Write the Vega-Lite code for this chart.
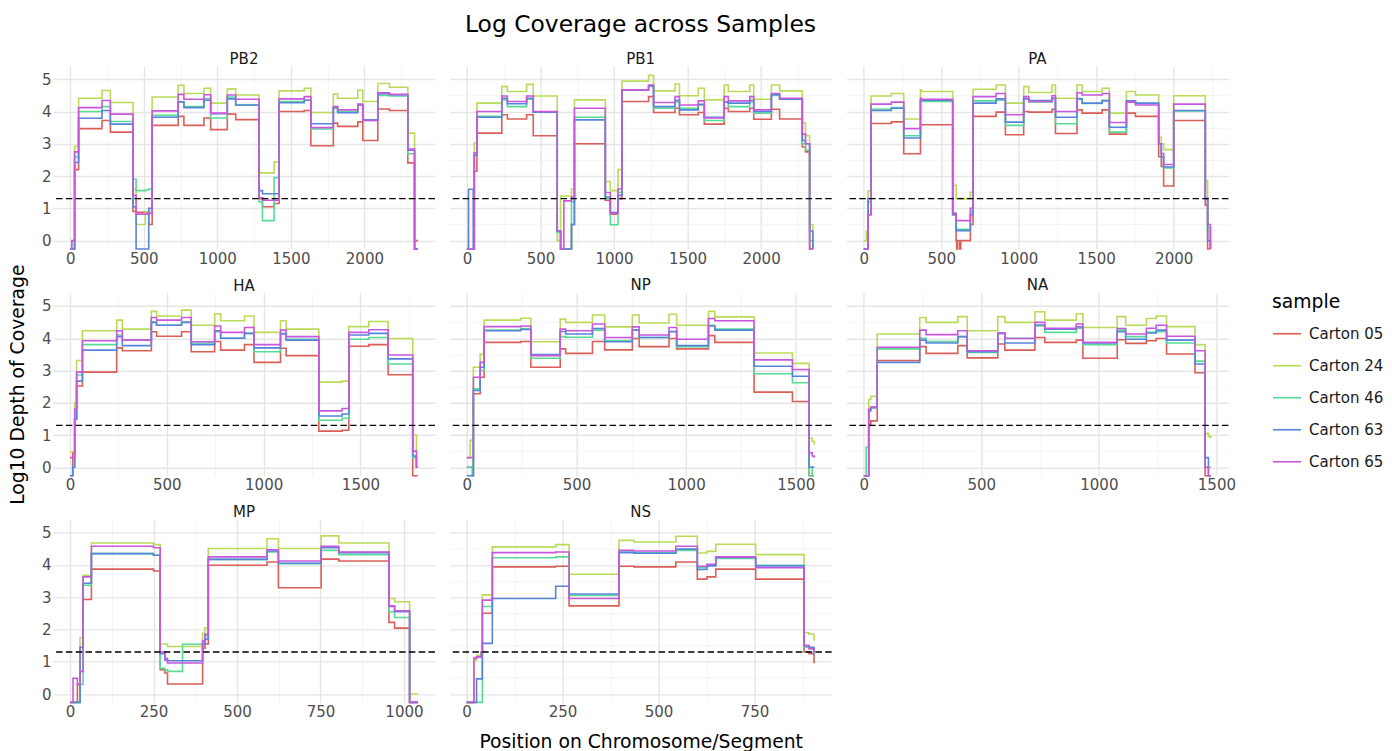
{
"$schema": "https://vega.github.io/schema/vega-lite/v6.json",
"padding": {"left": 8, "top": 12, "right": 5, "bottom": 5},
"title": {"text": "Log Coverage across Samples", "fontSize": 23.4, "fontWeight": "normal", "color": "#000000", "anchor": "start", "frame": "group", "dx": 412, "offset": 14.5},
"datasets": {
"PB2": [
{"x":0,"Carton 05":-0.26,"Carton 24":-0.26,"Carton 46":-0.26,"Carton 63":-0.26,"Carton 65":-0.26},
{"x":11,"Carton 05":-0.26,"Carton 24":0,"Carton 46":-0.26,"Carton 63":-0.26,"Carton 65":0},
{"x":30,"Carton 05":2.2,"Carton 24":2.92,"Carton 46":2.6,"Carton 63":2.42,"Carton 65":2.75},
{"x":57,"Carton 05":3.47,"Carton 24":4.41,"Carton 46":4.0,"Carton 63":3.79,"Carton 65":4.12},
{"x":216,"Carton 05":3.72,"Carton 24":4.65,"Carton 46":4.15,"Carton 63":4.03,"Carton 65":4.34},
{"x":273,"Carton 05":3.36,"Carton 24":4.28,"Carton 46":3.69,"Carton 63":3.61,"Carton 65":3.92},
{"x":427,"Carton 05":0.9,"Carton 24":1.6,"Carton 46":1.9,"Carton 63":1.05,"Carton 65":1.4},
{"x":448,"Carton 05":0.88,"Carton 24":0.5,"Carton 46":1.55,"Carton 63":-0.26,"Carton 65":0.82},
{"x":511,"Carton 05":0.88,"Carton 24":0.9,"Carton 46":1.57,"Carton 63":-0.26,"Carton 65":0.82},
{"x":534,"Carton 05":0.5,"Carton 24":0.9,"Carton 46":1.6,"Carton 63":1.0,"Carton 65":0.85},
{"x":557,"Carton 05":3.57,"Carton 24":4.45,"Carton 46":3.88,"Carton 63":3.82,"Carton 65":4.02},
{"x":734,"Carton 05":3.85,"Carton 24":4.81,"Carton 46":4.3,"Carton 63":4.3,"Carton 65":4.53},
{"x":773,"Carton 05":3.57,"Carton 24":4.56,"Carton 46":4.15,"Carton 63":4.12,"Carton 65":4.38},
{"x":909,"Carton 05":3.8,"Carton 24":4.72,"Carton 46":4.4,"Carton 63":4.35,"Carton 65":4.52},
{"x":955,"Carton 05":3.44,"Carton 24":4.26,"Carton 46":3.8,"Carton 63":3.93,"Carton 65":3.95},
{"x":1068,"Carton 05":3.92,"Carton 24":4.7,"Carton 46":4.45,"Carton 63":4.39,"Carton 65":4.51},
{"x":1125,"Carton 05":3.75,"Carton 24":4.51,"Carton 46":4.2,"Carton 63":4.2,"Carton 65":4.38},
{"x":1284,"Carton 05":1.3,"Carton 24":2.1,"Carton 46":1.2,"Carton 63":1.55,"Carton 65":1.33},
{"x":1307,"Carton 05":1.05,"Carton 24":2.1,"Carton 46":0.62,"Carton 63":1.45,"Carton 65":1.25},
{"x":1386,"Carton 05":1.15,"Carton 24":2.44,"Carton 46":1.95,"Carton 63":1.45,"Carton 65":1.25},
{"x":1420,"Carton 05":4.0,"Carton 24":4.64,"Carton 46":4.31,"Carton 63":4.27,"Carton 65":4.39},
{"x":1591,"Carton 05":4.03,"Carton 24":4.72,"Carton 46":4.35,"Carton 63":4.35,"Carton 65":4.46},
{"x":1636,"Carton 05":2.94,"Carton 24":3.97,"Carton 46":3.46,"Carton 63":3.62,"Carton 65":3.5},
{"x":1789,"Carton 05":3.64,"Carton 24":4.54,"Carton 46":4.1,"Carton 63":4.13,"Carton 65":4.15},
{"x":1818,"Carton 05":3.54,"Carton 24":4.41,"Carton 46":4.0,"Carton 63":3.96,"Carton 65":4.05},
{"x":1955,"Carton 05":3.68,"Carton 24":4.66,"Carton 46":4.2,"Carton 63":4.2,"Carton 65":4.23},
{"x":1989,"Carton 05":3.1,"Carton 24":4.31,"Carton 46":3.72,"Carton 63":3.74,"Carton 65":3.72},
{"x":2091,"Carton 05":4.08,"Carton 24":4.87,"Carton 46":4.5,"Carton 63":4.55,"Carton 65":4.58},
{"x":2170,"Carton 05":4.03,"Carton 24":4.75,"Carton 46":4.48,"Carton 63":4.52,"Carton 65":4.53},
{"x":2295,"Carton 05":2.41,"Carton 24":3.33,"Carton 46":2.69,"Carton 63":2.8,"Carton 65":2.84},
{"x":2341,"Carton 05":0,"Carton 24":-0.26,"Carton 46":-0.26,"Carton 63":-0.26,"Carton 65":-0.26},
{"x":2364,"Carton 05":0,"Carton 24":-0.26,"Carton 46":-0.26,"Carton 63":-0.26,"Carton 65":-0.26}
],
"PB1": [
{"x":0,"Carton 05":-0.26,"Carton 24":0,"Carton 46":-0.26,"Carton 63":-0.26,"Carton 65":-0.26},
{"x":11,"Carton 05":-0.26,"Carton 24":-0.26,"Carton 46":-0.26,"Carton 63":1.59,"Carton 65":-0.26},
{"x":43,"Carton 05":-0.26,"Carton 24":-0.26,"Carton 46":-0.26,"Carton 63":-0.26,"Carton 65":-0.26},
{"x":50,"Carton 05":2.15,"Carton 24":3.03,"Carton 46":2.65,"Carton 63":2.65,"Carton 65":2.72},
{"x":68,"Carton 05":3.33,"Carton 24":4.26,"Carton 46":3.85,"Carton 63":3.82,"Carton 65":4.0},
{"x":237,"Carton 05":3.9,"Carton 24":4.77,"Carton 46":4.36,"Carton 63":4.41,"Carton 65":4.48},
{"x":275,"Carton 05":3.77,"Carton 24":4.62,"Carton 46":4.15,"Carton 63":4.24,"Carton 65":4.31},
{"x":406,"Carton 05":3.9,"Carton 24":4.84,"Carton 46":4.38,"Carton 63":4.41,"Carton 65":4.48},
{"x":451,"Carton 05":3.25,"Carton 24":4.48,"Carton 46":3.98,"Carton 63":3.98,"Carton 65":4.0},
{"x":614,"Carton 05":0.3,"Carton 24":0,"Carton 46":0.25,"Carton 63":0.3,"Carton 65":0.3},
{"x":637,"Carton 05":-0.26,"Carton 24":1.38,"Carton 46":-0.26,"Carton 63":-0.26,"Carton 65":-0.26},
{"x":659,"Carton 05":-0.26,"Carton 24":1.38,"Carton 46":-0.26,"Carton 63":-0.26,"Carton 65":1.23},
{"x":711,"Carton 05":0.5,"Carton 24":1.6,"Carton 46":1.2,"Carton 63":0.5,"Carton 65":1.35},
{"x":731,"Carton 05":3.0,"Carton 24":4.36,"Carton 46":3.82,"Carton 63":3.74,"Carton 65":4.1},
{"x":941,"Carton 05":1.25,"Carton 24":1.83,"Carton 46":1.3,"Carton 63":1.35,"Carton 65":1.49},
{"x":975,"Carton 05":0.82,"Carton 24":1.55,"Carton 46":0.49,"Carton 63":0.87,"Carton 65":0.85},
{"x":1027,"Carton 05":1.3,"Carton 24":2.2,"Carton 46":1.5,"Carton 63":1.4,"Carton 65":1.6},
{"x":1054,"Carton 05":4.31,"Carton 24":4.94,"Carton 46":4.67,"Carton 63":4.67,"Carton 65":4.67},
{"x":1235,"Carton 05":4.46,"Carton 24":5.12,"Carton 46":4.78,"Carton 63":4.8,"Carton 65":4.82},
{"x":1269,"Carton 05":3.97,"Carton 24":4.64,"Carton 46":4.1,"Carton 63":4.15,"Carton 65":4.28},
{"x":1415,"Carton 05":4.1,"Carton 24":4.85,"Carton 46":4.3,"Carton 63":4.35,"Carton 65":4.46},
{"x":1445,"Carton 05":3.9,"Carton 24":4.49,"Carton 46":4.1,"Carton 63":4.05,"Carton 65":4.2},
{"x":1573,"Carton 05":3.97,"Carton 24":4.72,"Carton 46":4.2,"Carton 63":4.22,"Carton 65":4.33},
{"x":1614,"Carton 05":3.61,"Carton 24":4.36,"Carton 46":3.72,"Carton 63":3.82,"Carton 65":3.8},
{"x":1749,"Carton 05":4.1,"Carton 24":4.82,"Carton 46":4.3,"Carton 63":4.3,"Carton 65":4.46},
{"x":1777,"Carton 05":4.0,"Carton 24":4.62,"Carton 46":4.15,"Carton 63":4.26,"Carton 65":4.33},
{"x":1923,"Carton 05":4.1,"Carton 24":4.82,"Carton 46":4.3,"Carton 63":4.35,"Carton 65":4.46},
{"x":1950,"Carton 05":3.76,"Carton 24":4.38,"Carton 46":3.95,"Carton 63":4.0,"Carton 65":4.05},
{"x":2070,"Carton 05":4.07,"Carton 24":4.82,"Carton 46":4.5,"Carton 63":4.52,"Carton 65":4.56},
{"x":2126,"Carton 05":3.77,"Carton 24":4.64,"Carton 46":4.38,"Carton 63":4.38,"Carton 65":4.41},
{"x":2280,"Carton 05":2.9,"Carton 24":3.65,"Carton 46":3.0,"Carton 63":3.1,"Carton 65":3.3},
{"x":2302,"Carton 05":2.75,"Carton 24":3.25,"Carton 46":2.8,"Carton 63":3.0,"Carton 65":3.0},
{"x":2330,"Carton 05":-0.26,"Carton 24":0.5,"Carton 46":0,"Carton 63":0.3,"Carton 65":-0.26},
{"x":2352,"Carton 05":-0.26,"Carton 24":-0.26,"Carton 46":-0.26,"Carton 63":-0.26,"Carton 65":-0.26}
],
"PA": [
{"x":0,"Carton 05":-0.26,"Carton 24":0,"Carton 46":-0.26,"Carton 63":-0.26,"Carton 65":-0.26},
{"x":17,"Carton 05":-0.26,"Carton 24":0.3,"Carton 46":-0.26,"Carton 63":-0.26,"Carton 65":-0.26},
{"x":28,"Carton 05":0.8,"Carton 24":1.54,"Carton 46":1.2,"Carton 63":1.3,"Carton 65":0.8},
{"x":47,"Carton 05":3.63,"Carton 24":4.48,"Carton 46":4.07,"Carton 63":4.03,"Carton 65":4.23},
{"x":178,"Carton 05":3.68,"Carton 24":4.56,"Carton 46":4.12,"Carton 63":4.1,"Carton 65":4.29},
{"x":258,"Carton 05":2.69,"Carton 24":3.77,"Carton 46":3.25,"Carton 63":3.18,"Carton 65":3.47},
{"x":366,"Carton 05":3.59,"Carton 24":4.67,"Carton 46":4.31,"Carton 63":4.35,"Carton 65":4.41},
{"x":372,"Carton 05":3.59,"Carton 24":4.62,"Carton 46":4.31,"Carton 63":4.35,"Carton 65":4.38},
{"x":574,"Carton 05":0.8,"Carton 24":1.71,"Carton 46":0.85,"Carton 63":0.8,"Carton 65":0.85},
{"x":596,"Carton 05":0,"Carton 24":1.3,"Carton 46":0.35,"Carton 63":0.31,"Carton 65":0.62},
{"x":600,"Carton 05":-0.26,"Carton 24":1.3,"Carton 46":0.35,"Carton 63":0.31,"Carton 65":0.62},
{"x":606,"Carton 05":0,"Carton 24":1.3,"Carton 46":0.35,"Carton 63":0.31,"Carton 65":0.62},
{"x":620,"Carton 05":-0.26,"Carton 24":1.3,"Carton 46":0.35,"Carton 63":0.31,"Carton 65":0.62},
{"x":626,"Carton 05":0,"Carton 24":1.3,"Carton 46":0.35,"Carton 63":0.31,"Carton 65":0.62},
{"x":688,"Carton 05":0.5,"Carton 24":1.5,"Carton 46":0.9,"Carton 63":0.8,"Carton 65":1.0},
{"x":705,"Carton 05":3.85,"Carton 24":4.69,"Carton 46":4.33,"Carton 63":4.26,"Carton 65":4.46},
{"x":854,"Carton 05":3.98,"Carton 24":4.82,"Carton 46":4.35,"Carton 63":4.39,"Carton 65":4.56},
{"x":914,"Carton 05":3.28,"Carton 24":4.26,"Carton 46":3.57,"Carton 63":3.67,"Carton 65":3.9},
{"x":1032,"Carton 05":4.0,"Carton 24":4.77,"Carton 46":4.4,"Carton 63":4.39,"Carton 65":4.46},
{"x":1065,"Carton 05":3.98,"Carton 24":4.59,"Carton 46":4.3,"Carton 63":4.34,"Carton 65":4.31},
{"x":1215,"Carton 05":4.07,"Carton 24":4.82,"Carton 46":4.4,"Carton 63":4.41,"Carton 65":4.49},
{"x":1237,"Carton 05":3.32,"Carton 24":4.41,"Carton 46":3.62,"Carton 63":3.82,"Carton 65":4.0},
{"x":1376,"Carton 05":4.05,"Carton 24":4.82,"Carton 46":4.4,"Carton 63":4.39,"Carton 65":4.58},
{"x":1409,"Carton 05":3.95,"Carton 24":4.62,"Carton 46":4.25,"Carton 63":4.26,"Carton 65":4.51},
{"x":1538,"Carton 05":4.05,"Carton 24":4.72,"Carton 46":4.35,"Carton 63":4.33,"Carton 65":4.56},
{"x":1585,"Carton 05":3.3,"Carton 24":3.95,"Carton 46":3.36,"Carton 63":3.51,"Carton 65":3.66},
{"x":1695,"Carton 05":3.95,"Carton 24":4.62,"Carton 46":4.3,"Carton 63":4.33,"Carton 65":4.29},
{"x":1753,"Carton 05":3.85,"Carton 24":4.51,"Carton 46":4.25,"Carton 63":4.26,"Carton 65":4.2},
{"x":1903,"Carton 05":2.6,"Carton 24":3.2,"Carton 46":3.0,"Carton 63":3.0,"Carton 65":3.0},
{"x":1920,"Carton 05":2.3,"Carton 24":3.0,"Carton 46":2.6,"Carton 63":2.6,"Carton 65":2.7},
{"x":1935,"Carton 05":1.69,"Carton 24":2.82,"Carton 46":2.25,"Carton 63":2.28,"Carton 65":2.36},
{"x":2000,"Carton 05":3.72,"Carton 24":4.49,"Carton 46":4.02,"Carton 63":4.03,"Carton 65":4.23},
{"x":2204,"Carton 05":1.1,"Carton 24":1.85,"Carton 46":1.3,"Carton 63":1.3,"Carton 65":1.3},
{"x":2219,"Carton 05":-0.26,"Carton 24":0.3,"Carton 46":0.4,"Carton 63":0,"Carton 65":0.5},
{"x":2237,"Carton 05":-0.26,"Carton 24":-0.26,"Carton 46":-0.26,"Carton 63":-0.26,"Carton 65":-0.26}
],
"HA": [
{"x":0,"Carton 05":-0.26,"Carton 24":0.48,"Carton 46":-0.26,"Carton 63":-0.26,"Carton 65":0.3},
{"x":14,"Carton 05":0.45,"Carton 24":0.48,"Carton 46":0,"Carton 63":0,"Carton 65":0.3},
{"x":24,"Carton 05":1.5,"Carton 24":2.0,"Carton 46":1.5,"Carton 63":1.5,"Carton 65":1.8},
{"x":34,"Carton 05":2.52,"Carton 24":3.31,"Carton 46":2.86,"Carton 63":2.67,"Carton 65":2.95},
{"x":64,"Carton 05":2.95,"Carton 24":4.23,"Carton 46":3.8,"Carton 63":3.63,"Carton 65":3.92},
{"x":241,"Carton 05":3.7,"Carton 24":4.56,"Carton 46":4.1,"Carton 63":4.05,"Carton 65":4.23},
{"x":270,"Carton 05":3.61,"Carton 24":4.28,"Carton 46":3.95,"Carton 63":3.77,"Carton 65":3.94},
{"x":420,"Carton 05":4.2,"Carton 24":4.83,"Carton 46":4.5,"Carton 63":4.49,"Carton 65":4.64},
{"x":447,"Carton 05":4.06,"Carton 24":4.69,"Carton 46":4.4,"Carton 63":4.4,"Carton 65":4.56},
{"x":576,"Carton 05":4.2,"Carton 24":4.87,"Carton 46":4.5,"Carton 63":4.49,"Carton 65":4.64},
{"x":626,"Carton 05":3.58,"Carton 24":4.4,"Carton 46":3.85,"Carton 63":3.8,"Carton 65":3.89},
{"x":747,"Carton 05":3.9,"Carton 24":4.76,"Carton 46":4.2,"Carton 63":4.23,"Carton 65":4.38},
{"x":778,"Carton 05":3.63,"Carton 24":4.54,"Carton 46":4.0,"Carton 63":4.0,"Carton 65":4.18},
{"x":901,"Carton 05":3.8,"Carton 24":4.69,"Carton 46":4.15,"Carton 63":4.15,"Carton 65":4.33},
{"x":950,"Carton 05":3.25,"Carton 24":4.18,"Carton 46":3.58,"Carton 63":3.7,"Carton 65":3.8},
{"x":1087,"Carton 05":3.69,"Carton 24":4.54,"Carton 46":4.15,"Carton 63":4.13,"Carton 65":4.25},
{"x":1116,"Carton 05":3.46,"Carton 24":4.28,"Carton 46":3.97,"Carton 63":3.94,"Carton 65":4.05},
{"x":1285,"Carton 05":1.12,"Carton 24":2.64,"Carton 46":1.46,"Carton 63":1.59,"Carton 65":1.75},
{"x":1405,"Carton 05":1.15,"Carton 24":2.67,"Carton 46":1.52,"Carton 63":1.65,"Carton 65":1.82},
{"x":1440,"Carton 05":3.75,"Carton 24":4.36,"Carton 46":3.97,"Carton 63":4.1,"Carton 65":4.18},
{"x":1543,"Carton 05":3.8,"Carton 24":4.52,"Carton 46":4.02,"Carton 63":4.15,"Carton 65":4.26},
{"x":1643,"Carton 05":2.87,"Carton 24":3.99,"Carton 46":3.2,"Carton 63":3.36,"Carton 65":3.48},
{"x":1770,"Carton 05":-0.26,"Carton 24":1.0,"Carton 46":0.3,"Carton 63":0.35,"Carton 65":0.5},
{"x":1789,"Carton 05":-0.26,"Carton 24":0.5,"Carton 46":0,"Carton 63":0,"Carton 65":0},
{"x":1796,"Carton 05":-0.26,"Carton 24":0.5,"Carton 46":0,"Carton 63":0,"Carton 65":0}
],
"NP": [
{"x":0,"Carton 05":0,"Carton 24":0.3,"Carton 46":0,"Carton 63":-0.26,"Carton 65":0.3},
{"x":15,"Carton 05":0,"Carton 24":0.84,"Carton 46":0,"Carton 63":-0.26,"Carton 65":0.3},
{"x":26,"Carton 05":-0.26,"Carton 24":0.9,"Carton 46":-0.26,"Carton 63":-0.26,"Carton 65":0.3},
{"x":30,"Carton 05":2.28,"Carton 24":3.1,"Carton 46":2.43,"Carton 63":2.38,"Carton 65":2.79},
{"x":61,"Carton 05":2.79,"Carton 24":3.51,"Carton 46":3.0,"Carton 63":3.1,"Carton 65":3.25},
{"x":79,"Carton 05":3.87,"Carton 24":4.56,"Carton 46":4.25,"Carton 63":4.23,"Carton 65":4.36},
{"x":246,"Carton 05":3.9,"Carton 24":4.62,"Carton 46":4.3,"Carton 63":4.27,"Carton 65":4.38},
{"x":292,"Carton 05":3.1,"Carton 24":3.89,"Carton 46":3.38,"Carton 63":3.49,"Carton 65":3.46},
{"x":426,"Carton 05":3.67,"Carton 24":4.59,"Carton 46":4.05,"Carton 63":4.21,"Carton 65":4.28},
{"x":451,"Carton 05":3.53,"Carton 24":4.49,"Carton 46":4.03,"Carton 63":4.13,"Carton 65":4.23},
{"x":573,"Carton 05":3.9,"Carton 24":4.72,"Carton 46":4.25,"Carton 63":4.3,"Carton 65":4.44},
{"x":629,"Carton 05":3.64,"Carton 24":4.35,"Carton 46":3.92,"Carton 63":3.89,"Carton 65":4.02},
{"x":755,"Carton 05":3.99,"Carton 24":4.72,"Carton 46":4.25,"Carton 63":4.25,"Carton 65":4.35},
{"x":786,"Carton 05":3.74,"Carton 24":4.47,"Carton 46":4.02,"Carton 63":4.02,"Carton 65":4.1},
{"x":922,"Carton 05":3.99,"Carton 24":4.74,"Carton 46":4.2,"Carton 63":4.21,"Carton 65":4.33},
{"x":957,"Carton 05":3.67,"Carton 24":4.4,"Carton 46":3.74,"Carton 63":3.77,"Carton 65":3.97},
{"x":1102,"Carton 05":4.08,"Carton 24":4.83,"Carton 46":4.4,"Carton 63":4.38,"Carton 65":4.61},
{"x":1131,"Carton 05":3.87,"Carton 24":4.66,"Carton 46":4.28,"Carton 63":4.25,"Carton 65":4.54},
{"x":1310,"Carton 05":2.33,"Carton 24":3.54,"Carton 46":2.9,"Carton 63":3.13,"Carton 65":3.33},
{"x":1485,"Carton 05":2.04,"Carton 24":3.22,"Carton 46":2.62,"Carton 63":2.82,"Carton 65":3.03},
{"x":1561,"Carton 05":-0.26,"Carton 24":0.9,"Carton 46":-0.26,"Carton 63":0,"Carton 65":0.45},
{"x":1575,"Carton 05":-0.26,"Carton 24":0.8,"Carton 46":0,"Carton 63":0,"Carton 65":0.35},
{"x":1584,"Carton 05":-0.26,"Carton 24":0.7,"Carton 46":0,"Carton 63":0,"Carton 65":0.3}
],
"NA": [
{"x":0,"Carton 05":-0.26,"Carton 24":-0.26,"Carton 46":-0.26,"Carton 63":-0.26,"Carton 65":-0.26},
{"x":10,"Carton 05":-0.26,"Carton 24":-0.26,"Carton 46":0.62,"Carton 63":-0.26,"Carton 65":-0.26},
{"x":21,"Carton 05":1.3,"Carton 24":2.1,"Carton 46":1.8,"Carton 63":1.75,"Carton 65":1.8},
{"x":30,"Carton 05":1.44,"Carton 24":2.2,"Carton 46":1.85,"Carton 63":1.85,"Carton 65":1.87},
{"x":57,"Carton 05":3.31,"Carton 24":4.13,"Carton 46":3.67,"Carton 63":3.25,"Carton 65":3.72},
{"x":238,"Carton 05":3.74,"Carton 24":4.64,"Carton 46":4.0,"Carton 63":3.94,"Carton 65":4.25},
{"x":265,"Carton 05":3.53,"Carton 24":4.49,"Carton 46":3.9,"Carton 63":3.85,"Carton 65":4.11},
{"x":400,"Carton 05":3.77,"Carton 24":4.67,"Carton 46":4.05,"Carton 63":4.05,"Carton 65":4.23},
{"x":440,"Carton 05":3.39,"Carton 24":4.23,"Carton 46":3.56,"Carton 63":3.58,"Carton 65":3.61},
{"x":570,"Carton 05":3.82,"Carton 24":4.67,"Carton 46":4.15,"Carton 63":4.15,"Carton 65":4.16},
{"x":600,"Carton 05":3.63,"Carton 24":4.49,"Carton 46":4.0,"Carton 63":3.85,"Carton 65":3.99},
{"x":728,"Carton 05":4.02,"Carton 24":4.82,"Carton 46":4.38,"Carton 63":4.41,"Carton 65":4.49},
{"x":770,"Carton 05":3.87,"Carton 24":4.56,"Carton 46":4.18,"Carton 63":4.28,"Carton 65":4.31},
{"x":904,"Carton 05":3.94,"Carton 24":4.76,"Carton 46":4.3,"Carton 63":4.35,"Carton 65":4.44},
{"x":932,"Carton 05":3.38,"Carton 24":4.33,"Carton 46":3.8,"Carton 63":3.85,"Carton 65":3.87},
{"x":1078,"Carton 05":3.95,"Carton 24":4.67,"Carton 46":4.25,"Carton 63":4.2,"Carton 65":4.3},
{"x":1114,"Carton 05":3.84,"Carton 24":4.4,"Carton 46":4.05,"Carton 63":3.97,"Carton 65":4.13},
{"x":1202,"Carton 05":3.92,"Carton 24":4.61,"Carton 46":4.18,"Carton 63":4.16,"Carton 65":4.31},
{"x":1244,"Carton 05":3.99,"Carton 24":4.69,"Carton 46":4.2,"Carton 63":4.25,"Carton 65":4.4},
{"x":1288,"Carton 05":3.51,"Carton 24":4.36,"Carton 46":3.85,"Carton 63":3.94,"Carton 65":4.06},
{"x":1409,"Carton 05":2.93,"Carton 24":3.8,"Carton 46":3.29,"Carton 63":3.2,"Carton 65":3.61},
{"x":1452,"Carton 05":-0.26,"Carton 24":1.05,"Carton 46":0,"Carton 63":0.3,"Carton 65":0},
{"x":1466,"Carton 05":-0.26,"Carton 24":0.95,"Carton 46":0,"Carton 63":-0.26,"Carton 65":-0.26},
{"x":1476,"Carton 05":-0.26,"Carton 24":0.9,"Carton 46":0,"Carton 63":-0.26,"Carton 65":-0.26}
],
"MP": [
{"x":0,"Carton 05":-0.26,"Carton 24":-0.26,"Carton 46":-0.26,"Carton 63":-0.26,"Carton 65":-0.26},
{"x":9,"Carton 05":-0.26,"Carton 24":-0.26,"Carton 46":-0.26,"Carton 63":-0.26,"Carton 65":0.49},
{"x":22,"Carton 05":0.3,"Carton 24":-0.26,"Carton 46":-0.26,"Carton 63":-0.26,"Carton 65":0.3},
{"x":30,"Carton 05":1.3,"Carton 24":1.75,"Carton 46":0.3,"Carton 63":1.45,"Carton 65":0.7},
{"x":39,"Carton 05":2.93,"Carton 24":3.68,"Carton 46":3.37,"Carton 63":3.43,"Carton 65":3.63},
{"x":64,"Carton 05":3.87,"Carton 24":4.68,"Carton 46":4.35,"Carton 63":4.35,"Carton 65":4.58},
{"x":250,"Carton 05":3.81,"Carton 24":4.63,"Carton 46":4.3,"Carton 63":4.3,"Carton 65":4.53},
{"x":270,"Carton 05":0.75,"Carton 24":1.55,"Carton 46":0.8,"Carton 63":1.25,"Carton 65":1.3},
{"x":284,"Carton 05":0.65,"Carton 24":1.55,"Carton 46":0.75,"Carton 63":1.1,"Carton 65":1.05},
{"x":292,"Carton 05":0.31,"Carton 24":1.47,"Carton 46":0.7,"Carton 63":1.03,"Carton 65":0.96},
{"x":337,"Carton 05":0.31,"Carton 24":1.47,"Carton 46":1.54,"Carton 63":1.03,"Carton 65":0.96},
{"x":397,"Carton 05":1.42,"Carton 24":1.88,"Carton 46":1.6,"Carton 63":1.55,"Carton 65":1.65},
{"x":404,"Carton 05":1.55,"Carton 24":2.05,"Carton 46":1.8,"Carton 63":1.7,"Carton 65":1.85},
{"x":414,"Carton 05":3.99,"Carton 24":4.51,"Carton 46":4.17,"Carton 63":4.17,"Carton 65":4.25},
{"x":590,"Carton 05":4.09,"Carton 24":4.81,"Carton 46":4.4,"Carton 63":4.43,"Carton 65":4.47},
{"x":624,"Carton 05":3.29,"Carton 24":4.51,"Carton 46":4.04,"Carton 63":4.05,"Carton 65":4.12},
{"x":752,"Carton 05":4.18,"Carton 24":4.9,"Carton 46":4.45,"Carton 63":4.53,"Carton 65":4.58},
{"x":805,"Carton 05":4.12,"Carton 24":4.68,"Carton 46":4.32,"Carton 63":4.38,"Carton 65":4.4},
{"x":955,"Carton 05":2.22,"Carton 24":2.96,"Carton 46":2.55,"Carton 63":2.71,"Carton 65":2.73},
{"x":972,"Carton 05":2.04,"Carton 24":2.86,"Carton 46":2.37,"Carton 63":2.55,"Carton 65":2.58},
{"x":1017,"Carton 05":-0.26,"Carton 24":0,"Carton 46":-0.26,"Carton 63":-0.26,"Carton 65":-0.26},
{"x":1042,"Carton 05":-0.26,"Carton 24":0,"Carton 46":-0.26,"Carton 63":-0.26,"Carton 65":-0.26}
],
"NS": [
{"x":0,"Carton 05":-0.26,"Carton 24":-0.26,"Carton 46":-0.26,"Carton 63":-0.26,"Carton 65":-0.26},
{"x":19,"Carton 05":1.11,"Carton 24":1.05,"Carton 46":-0.26,"Carton 63":-0.26,"Carton 65":1.11},
{"x":26,"Carton 05":1.15,"Carton 24":1.2,"Carton 46":-0.26,"Carton 63":0.47,"Carton 65":1.15},
{"x":38,"Carton 05":1.3,"Carton 24":1.3,"Carton 46":-0.26,"Carton 63":0.47,"Carton 65":1.3},
{"x":41,"Carton 05":2.5,"Carton 24":3.07,"Carton 46":2.71,"Carton 63":1.57,"Carton 65":2.91},
{"x":67,"Carton 05":3.94,"Carton 24":4.56,"Carton 46":4.22,"Carton 63":2.96,"Carton 65":4.38},
{"x":232,"Carton 05":3.96,"Carton 24":4.63,"Carton 46":4.25,"Carton 63":3.34,"Carton 65":4.4},
{"x":267,"Carton 05":2.73,"Carton 24":3.71,"Carton 46":3.05,"Carton 63":3.1,"Carton 65":2.96},
{"x":397,"Carton 05":3.96,"Carton 24":4.76,"Carton 46":4.4,"Carton 63":4.38,"Carton 65":4.45},
{"x":436,"Carton 05":3.94,"Carton 24":4.71,"Carton 46":4.38,"Carton 63":4.36,"Carton 65":4.43},
{"x":545,"Carton 05":4.09,"Carton 24":4.89,"Carton 46":4.45,"Carton 63":4.49,"Carton 65":4.58},
{"x":601,"Carton 05":3.56,"Carton 24":4.37,"Carton 46":3.91,"Carton 63":3.86,"Carton 65":3.96},
{"x":626,"Carton 05":3.63,"Carton 24":4.42,"Carton 46":4.0,"Carton 63":3.97,"Carton 65":4.02},
{"x":649,"Carton 05":3.87,"Carton 24":4.64,"Carton 46":4.2,"Carton 63":4.23,"Carton 65":4.25},
{"x":753,"Carton 05":3.56,"Carton 24":4.32,"Carton 46":3.99,"Carton 63":3.97,"Carton 65":3.91},
{"x":879,"Carton 05":1.3,"Carton 24":1.9,"Carton 46":1.45,"Carton 63":1.5,"Carton 65":1.5},
{"x":892,"Carton 05":1.25,"Carton 24":1.85,"Carton 46":1.4,"Carton 63":1.45,"Carton 65":1.4},
{"x":905,"Carton 05":0.95,"Carton 24":1.65,"Carton 46":1.3,"Carton 63":1.2,"Carton 65":1.3}
]
},
"concat": [
{"width": 382, "height": 183, "title": {"text": "PB2"},
 "layer": [
  {"data": {"name": "PB2"}, "transform": [{"fold": ["Carton 05","Carton 24","Carton 46","Carton 63","Carton 65"], "as": ["sample","depth"]}],
   "mark": {"type": "line", "interpolate": "step-after", "strokeWidth": 1.6},
   "encoding": {
    "x": {"field": "x", "type": "quantitative", "scale": {"domain": [-117, 2480], "nice": false, "zero": false},
          "axis": {"title": null, "values": [0,250,500,750,1000,1250,1500,1750,2000,2250], "format": "d", "labelOverlap": false, "labelExpr": "datum.value % 500 === 0 ? datum.label : ''",
                   "gridColor": {"condition": {"test": "datum.value % 500 === 0", "value": "#e5e5e5"}, "value": "#f2f2f2"},
                   "gridWidth": {"condition": {"test": "datum.value % 500 === 0", "value": 1.4}, "value": 0.8}}},
    "y": {"field": "depth", "type": "quantitative", "scale": {"domain": [-0.26, 5.41], "nice": false, "zero": false},
          "axis": {"title": null, "values": [0,0.5,1,1.5,2,2.5,3,3.5,4,4.5,5], "format": "d", "labelOverlap": false, "labelExpr": "datum.value % 1 === 0 ? datum.label : ''",
                   "gridColor": {"condition": {"test": "datum.value % 1 === 0", "value": "#e5e5e5"}, "value": "#f2f2f2"},
                   "gridWidth": {"condition": {"test": "datum.value % 1 === 0", "value": 1.4}, "value": 0.8}}},
    "color": {"field": "sample", "type": "nominal", "scale": {"domain": ["Carton 05","Carton 24","Carton 46","Carton 63","Carton 65"], "range": ["#db5f57","#b9db57","#57db94","#5784db","#c957db"]},
              "legend": {"title": "sample", "orient": "none", "legendX": 1219, "legendY": 227}}
   }},
  {"data": {"values": [{"thr": 1.3}]}, "mark": {"type": "rule", "color": "#000000", "strokeDash": [6.5, 3.3], "strokeWidth": 1.4},
   "encoding": {"y": {"field": "thr", "type": "quantitative",
          "axis": {"title": null, "values": [0,0.5,1,1.5,2,2.5,3,3.5,4,4.5,5], "format": "d", "labelOverlap": false, "labelExpr": "datum.value % 1 === 0 ? datum.label : ''",
                   "gridColor": {"condition": {"test": "datum.value % 1 === 0", "value": "#e5e5e5"}, "value": "#f2f2f2"},
                   "gridWidth": {"condition": {"test": "datum.value % 1 === 0", "value": 1.4}, "value": 0.8}}}}}
 ]},
{"width": 382, "height": 183, "title": {"text": "PB1"},
 "layer": [
  {"data": {"name": "PB1"}, "transform": [{"fold": ["Carton 05","Carton 24","Carton 46","Carton 63","Carton 65"], "as": ["sample","depth"]}],
   "mark": {"type": "line", "interpolate": "step-after", "strokeWidth": 1.6},
   "encoding": {
    "x": {"field": "x", "type": "quantitative", "scale": {"domain": [-117, 2480], "nice": false, "zero": false},
          "axis": {"title": null, "values": [0,250,500,750,1000,1250,1500,1750,2000,2250], "format": "d", "labelOverlap": false, "labelExpr": "datum.value % 500 === 0 ? datum.label : ''",
                   "gridColor": {"condition": {"test": "datum.value % 500 === 0", "value": "#e5e5e5"}, "value": "#f2f2f2"},
                   "gridWidth": {"condition": {"test": "datum.value % 500 === 0", "value": 1.4}, "value": 0.8}}},
    "y": {"field": "depth", "type": "quantitative", "scale": {"domain": [-0.26, 5.41], "nice": false, "zero": false},
          "axis": {"title": null, "labels": false, "values": [0,0.5,1,1.5,2,2.5,3,3.5,4,4.5,5],
                   "gridColor": {"condition": {"test": "datum.value % 1 === 0", "value": "#e5e5e5"}, "value": "#f2f2f2"},
                   "gridWidth": {"condition": {"test": "datum.value % 1 === 0", "value": 1.4}, "value": 0.8}}},
    "color": {"field": "sample", "type": "nominal", "scale": {"domain": ["Carton 05","Carton 24","Carton 46","Carton 63","Carton 65"], "range": ["#db5f57","#b9db57","#57db94","#5784db","#c957db"]}}
   }},
  {"data": {"values": [{"thr": 1.3}]}, "mark": {"type": "rule", "color": "#000000", "strokeDash": [6.5, 3.3], "strokeWidth": 1.4},
   "encoding": {"y": {"field": "thr", "type": "quantitative",
          "axis": {"title": null, "labels": false, "values": [0,0.5,1,1.5,2,2.5,3,3.5,4,4.5,5],
                   "gridColor": {"condition": {"test": "datum.value % 1 === 0", "value": "#e5e5e5"}, "value": "#f2f2f2"},
                   "gridWidth": {"condition": {"test": "datum.value % 1 === 0", "value": 1.4}, "value": 0.8}}}}}
 ]},
{"width": 382, "height": 183, "title": {"text": "PA"},
 "layer": [
  {"data": {"name": "PA"}, "transform": [{"fold": ["Carton 05","Carton 24","Carton 46","Carton 63","Carton 65"], "as": ["sample","depth"]}],
   "mark": {"type": "line", "interpolate": "step-after", "strokeWidth": 1.6},
   "encoding": {
    "x": {"field": "x", "type": "quantitative", "scale": {"domain": [-112, 2353], "nice": false, "zero": false},
          "axis": {"title": null, "values": [0,250,500,750,1000,1250,1500,1750,2000,2250], "format": "d", "labelOverlap": false, "labelExpr": "datum.value % 500 === 0 ? datum.label : ''",
                   "gridColor": {"condition": {"test": "datum.value % 500 === 0", "value": "#e5e5e5"}, "value": "#f2f2f2"},
                   "gridWidth": {"condition": {"test": "datum.value % 500 === 0", "value": 1.4}, "value": 0.8}}},
    "y": {"field": "depth", "type": "quantitative", "scale": {"domain": [-0.26, 5.41], "nice": false, "zero": false},
          "axis": {"title": null, "labels": false, "values": [0,0.5,1,1.5,2,2.5,3,3.5,4,4.5,5],
                   "gridColor": {"condition": {"test": "datum.value % 1 === 0", "value": "#e5e5e5"}, "value": "#f2f2f2"},
                   "gridWidth": {"condition": {"test": "datum.value % 1 === 0", "value": 1.4}, "value": 0.8}}},
    "color": {"field": "sample", "type": "nominal", "scale": {"domain": ["Carton 05","Carton 24","Carton 46","Carton 63","Carton 65"], "range": ["#db5f57","#b9db57","#57db94","#5784db","#c957db"]}}
   }},
  {"data": {"values": [{"thr": 1.3}]}, "mark": {"type": "rule", "color": "#000000", "strokeDash": [6.5, 3.3], "strokeWidth": 1.4},
   "encoding": {"y": {"field": "thr", "type": "quantitative",
          "axis": {"title": null, "labels": false, "values": [0,0.5,1,1.5,2,2.5,3,3.5,4,4.5,5],
                   "gridColor": {"condition": {"test": "datum.value % 1 === 0", "value": "#e5e5e5"}, "value": "#f2f2f2"},
                   "gridWidth": {"condition": {"test": "datum.value % 1 === 0", "value": 1.4}, "value": 0.8}}}}}
 ]},
{"width": 382, "height": 183, "title": {"text": "HA", "offset": -29.5},
 "layer": [
  {"data": {"name": "HA"}, "transform": [{"fold": ["Carton 05","Carton 24","Carton 46","Carton 63","Carton 65"], "as": ["sample","depth"]}],
   "mark": {"type": "line", "interpolate": "step-after", "strokeWidth": 1.6},
   "encoding": {
    "x": {"field": "x", "type": "quantitative", "scale": {"domain": [-88, 1885], "nice": false, "zero": false},
          "axis": {"title": null, "values": [0,250,500,750,1000,1250,1500,1750], "format": "d", "labelOverlap": false, "labelExpr": "datum.value % 500 === 0 ? datum.label : ''",
                   "gridColor": {"condition": {"test": "datum.value % 500 === 0", "value": "#e5e5e5"}, "value": "#f2f2f2"},
                   "gridWidth": {"condition": {"test": "datum.value % 500 === 0", "value": 1.4}, "value": 0.8}}},
    "y": {"field": "depth", "type": "quantitative", "scale": {"domain": [-0.26, 5.41], "nice": false, "zero": false},
          "axis": {"title": "Log10 Depth of Coverage", "titlePadding": 14, "values": [0,0.5,1,1.5,2,2.5,3,3.5,4,4.5,5], "format": "d", "labelOverlap": false, "labelExpr": "datum.value % 1 === 0 ? datum.label : ''",
                   "gridColor": {"condition": {"test": "datum.value % 1 === 0", "value": "#e5e5e5"}, "value": "#f2f2f2"},
                   "gridWidth": {"condition": {"test": "datum.value % 1 === 0", "value": 1.4}, "value": 0.8}}},
    "color": {"field": "sample", "type": "nominal", "scale": {"domain": ["Carton 05","Carton 24","Carton 46","Carton 63","Carton 65"], "range": ["#db5f57","#b9db57","#57db94","#5784db","#c957db"]}}
   }},
  {"data": {"values": [{"thr": 1.3}]}, "mark": {"type": "rule", "color": "#000000", "strokeDash": [6.5, 3.3], "strokeWidth": 1.4},
   "encoding": {"y": {"field": "thr", "type": "quantitative",
          "axis": {"title": "Log10 Depth of Coverage", "titlePadding": 14, "values": [0,0.5,1,1.5,2,2.5,3,3.5,4,4.5,5], "format": "d", "labelOverlap": false, "labelExpr": "datum.value % 1 === 0 ? datum.label : ''",
                   "gridColor": {"condition": {"test": "datum.value % 1 === 0", "value": "#e5e5e5"}, "value": "#f2f2f2"},
                   "gridWidth": {"condition": {"test": "datum.value % 1 === 0", "value": 1.4}, "value": 0.8}}}}}
 ]},
{"width": 382, "height": 183, "title": {"text": "NP"},
 "layer": [
  {"data": {"name": "NP"}, "transform": [{"fold": ["Carton 05","Carton 24","Carton 46","Carton 63","Carton 65"], "as": ["sample","depth"]}],
   "mark": {"type": "line", "interpolate": "step-after", "strokeWidth": 1.6},
   "encoding": {
    "x": {"field": "x", "type": "quantitative", "scale": {"domain": [-78, 1664], "nice": false, "zero": false},
          "axis": {"title": null, "values": [0,250,500,750,1000,1250,1500], "format": "d", "labelOverlap": false, "labelExpr": "datum.value % 500 === 0 ? datum.label : ''",
                   "gridColor": {"condition": {"test": "datum.value % 500 === 0", "value": "#e5e5e5"}, "value": "#f2f2f2"},
                   "gridWidth": {"condition": {"test": "datum.value % 500 === 0", "value": 1.4}, "value": 0.8}}},
    "y": {"field": "depth", "type": "quantitative", "scale": {"domain": [-0.26, 5.41], "nice": false, "zero": false},
          "axis": {"title": null, "labels": false, "values": [0,0.5,1,1.5,2,2.5,3,3.5,4,4.5,5],
                   "gridColor": {"condition": {"test": "datum.value % 1 === 0", "value": "#e5e5e5"}, "value": "#f2f2f2"},
                   "gridWidth": {"condition": {"test": "datum.value % 1 === 0", "value": 1.4}, "value": 0.8}}},
    "color": {"field": "sample", "type": "nominal", "scale": {"domain": ["Carton 05","Carton 24","Carton 46","Carton 63","Carton 65"], "range": ["#db5f57","#b9db57","#57db94","#5784db","#c957db"]}}
   }},
  {"data": {"values": [{"thr": 1.3}]}, "mark": {"type": "rule", "color": "#000000", "strokeDash": [6.5, 3.3], "strokeWidth": 1.4},
   "encoding": {"y": {"field": "thr", "type": "quantitative",
          "axis": {"title": null, "labels": false, "values": [0,0.5,1,1.5,2,2.5,3,3.5,4,4.5,5],
                   "gridColor": {"condition": {"test": "datum.value % 1 === 0", "value": "#e5e5e5"}, "value": "#f2f2f2"},
                   "gridWidth": {"condition": {"test": "datum.value % 1 === 0", "value": 1.4}, "value": 0.8}}}}}
 ]},
{"width": 382, "height": 183, "title": {"text": "NA"},
 "layer": [
  {"data": {"name": "NA"}, "transform": [{"fold": ["Carton 05","Carton 24","Carton 46","Carton 63","Carton 65"], "as": ["sample","depth"]}],
   "mark": {"type": "line", "interpolate": "step-after", "strokeWidth": 1.6},
   "encoding": {
    "x": {"field": "x", "type": "quantitative", "scale": {"domain": [-74, 1551], "nice": false, "zero": false},
          "axis": {"title": null, "values": [0,250,500,750,1000,1250,1500], "format": "d", "labelOverlap": false, "labelExpr": "datum.value % 500 === 0 ? datum.label : ''",
                   "gridColor": {"condition": {"test": "datum.value % 500 === 0", "value": "#e5e5e5"}, "value": "#f2f2f2"},
                   "gridWidth": {"condition": {"test": "datum.value % 500 === 0", "value": 1.4}, "value": 0.8}}},
    "y": {"field": "depth", "type": "quantitative", "scale": {"domain": [-0.26, 5.41], "nice": false, "zero": false},
          "axis": {"title": null, "labels": false, "values": [0,0.5,1,1.5,2,2.5,3,3.5,4,4.5,5],
                   "gridColor": {"condition": {"test": "datum.value % 1 === 0", "value": "#e5e5e5"}, "value": "#f2f2f2"},
                   "gridWidth": {"condition": {"test": "datum.value % 1 === 0", "value": 1.4}, "value": 0.8}}},
    "color": {"field": "sample", "type": "nominal", "scale": {"domain": ["Carton 05","Carton 24","Carton 46","Carton 63","Carton 65"], "range": ["#db5f57","#b9db57","#57db94","#5784db","#c957db"]}}
   }},
  {"data": {"values": [{"thr": 1.3}]}, "mark": {"type": "rule", "color": "#000000", "strokeDash": [6.5, 3.3], "strokeWidth": 1.4},
   "encoding": {"y": {"field": "thr", "type": "quantitative",
          "axis": {"title": null, "labels": false, "values": [0,0.5,1,1.5,2,2.5,3,3.5,4,4.5,5],
                   "gridColor": {"condition": {"test": "datum.value % 1 === 0", "value": "#e5e5e5"}, "value": "#f2f2f2"},
                   "gridWidth": {"condition": {"test": "datum.value % 1 === 0", "value": 1.4}, "value": 0.8}}}}}
 ]},
{"width": 382, "height": 183, "title": {"text": "MP"},
 "layer": [
  {"data": {"name": "MP"}, "transform": [{"fold": ["Carton 05","Carton 24","Carton 46","Carton 63","Carton 65"], "as": ["sample","depth"]}],
   "mark": {"type": "line", "interpolate": "step-after", "strokeWidth": 1.6},
   "encoding": {
    "x": {"field": "x", "type": "quantitative", "scale": {"domain": [-51, 1093], "nice": false, "zero": false},
          "axis": {"title": null, "values": [0,125,250,375,500,625,750,875,1000], "format": "d", "labelOverlap": false, "labelExpr": "datum.value % 250 === 0 ? datum.label : ''",
                   "gridColor": {"condition": {"test": "datum.value % 250 === 0", "value": "#e5e5e5"}, "value": "#f2f2f2"},
                   "gridWidth": {"condition": {"test": "datum.value % 250 === 0", "value": 1.4}, "value": 0.8}}},
    "y": {"field": "depth", "type": "quantitative", "scale": {"domain": [-0.26, 5.41], "nice": false, "zero": false},
          "axis": {"title": null, "values": [0,0.5,1,1.5,2,2.5,3,3.5,4,4.5,5], "format": "d", "labelOverlap": false, "labelExpr": "datum.value % 1 === 0 ? datum.label : ''",
                   "gridColor": {"condition": {"test": "datum.value % 1 === 0", "value": "#e5e5e5"}, "value": "#f2f2f2"},
                   "gridWidth": {"condition": {"test": "datum.value % 1 === 0", "value": 1.4}, "value": 0.8}}},
    "color": {"field": "sample", "type": "nominal", "scale": {"domain": ["Carton 05","Carton 24","Carton 46","Carton 63","Carton 65"], "range": ["#db5f57","#b9db57","#57db94","#5784db","#c957db"]}}
   }},
  {"data": {"values": [{"thr": 1.3}]}, "mark": {"type": "rule", "color": "#000000", "strokeDash": [6.5, 3.3], "strokeWidth": 1.4},
   "encoding": {"y": {"field": "thr", "type": "quantitative",
          "axis": {"title": null, "values": [0,0.5,1,1.5,2,2.5,3,3.5,4,4.5,5], "format": "d", "labelOverlap": false, "labelExpr": "datum.value % 1 === 0 ? datum.label : ''",
                   "gridColor": {"condition": {"test": "datum.value % 1 === 0", "value": "#e5e5e5"}, "value": "#f2f2f2"},
                   "gridWidth": {"condition": {"test": "datum.value % 1 === 0", "value": 1.4}, "value": 0.8}}}}}
 ]},
{"width": 382, "height": 183, "title": {"text": "NS"},
 "layer": [
  {"data": {"name": "NS"}, "transform": [{"fold": ["Carton 05","Carton 24","Carton 46","Carton 63","Carton 65"], "as": ["sample","depth"]}],
   "mark": {"type": "line", "interpolate": "step-after", "strokeWidth": 1.6},
   "encoding": {
    "x": {"field": "x", "type": "quantitative", "scale": {"domain": [-44, 951], "nice": false, "zero": false},
          "axis": {"title": "Position on Chromosome/Segment", "titlePadding": 13, "values": [0,125,250,375,500,625,750,875], "format": "d", "labelOverlap": false, "labelExpr": "datum.value % 250 === 0 ? datum.label : ''",
                   "gridColor": {"condition": {"test": "datum.value % 250 === 0", "value": "#e5e5e5"}, "value": "#f2f2f2"},
                   "gridWidth": {"condition": {"test": "datum.value % 250 === 0", "value": 1.4}, "value": 0.8}}},
    "y": {"field": "depth", "type": "quantitative", "scale": {"domain": [-0.26, 5.41], "nice": false, "zero": false},
          "axis": {"title": null, "labels": false, "values": [0,0.5,1,1.5,2,2.5,3,3.5,4,4.5,5],
                   "gridColor": {"condition": {"test": "datum.value % 1 === 0", "value": "#e5e5e5"}, "value": "#f2f2f2"},
                   "gridWidth": {"condition": {"test": "datum.value % 1 === 0", "value": 1.4}, "value": 0.8}}},
    "color": {"field": "sample", "type": "nominal", "scale": {"domain": ["Carton 05","Carton 24","Carton 46","Carton 63","Carton 65"], "range": ["#db5f57","#b9db57","#57db94","#5784db","#c957db"]}}
   }},
  {"data": {"values": [{"thr": 1.3}]}, "mark": {"type": "rule", "color": "#000000", "strokeDash": [6.5, 3.3], "strokeWidth": 1.4},
   "encoding": {"y": {"field": "thr", "type": "quantitative",
          "axis": {"title": null, "labels": false, "values": [0,0.5,1,1.5,2,2.5,3,3.5,4,4.5,5],
                   "gridColor": {"condition": {"test": "datum.value % 1 === 0", "value": "#e5e5e5"}, "value": "#f2f2f2"},
                   "gridWidth": {"condition": {"test": "datum.value % 1 === 0", "value": 1.4}, "value": 0.8}}}}}
 ]}
],
"columns": 3,
"spacing": {"row": 43.7, "column": 14.7},
"bounds": "flush",
"resolve": {"scale": {"color": "shared"}, "legend": {"color": "shared"}},
"config": {
 "font": "DejaVu Sans",
 "view": {"stroke": null},
 "axis": {"ticks": false, "domain": false, "labelFont": "DejaVu Sans", "labelFontSize": 15, "labelColor": "#4d4d4d", "labelPadding": 2, "labelOverlap": false, "labelFlush": false,
          "titleFont": "DejaVu Sans", "titleFontSize": 18.75, "titleFontWeight": "normal", "titleColor": "#000000"},
 "axisY": {"labelOverlap": false},
 "title": {"font": "DejaVu Sans", "fontSize": 15, "fontWeight": "normal", "color": "#1a1a1a", "anchor": "middle", "frame": "group", "offset": -0.5},
 "legend": {"titleFont": "DejaVu Sans", "titleFontSize": 18.75, "titleFontWeight": "normal", "titleColor": "#000000", "titlePadding": 7,
            "labelFont": "DejaVu Sans", "labelFontSize": 15, "labelColor": "#1a1a1a", "labelOffset": 7,
            "symbolType": "stroke", "symbolSize": 784, "symbolStrokeWidth": 1.6, "rowPadding": 9, "padding": 0}
}
}
